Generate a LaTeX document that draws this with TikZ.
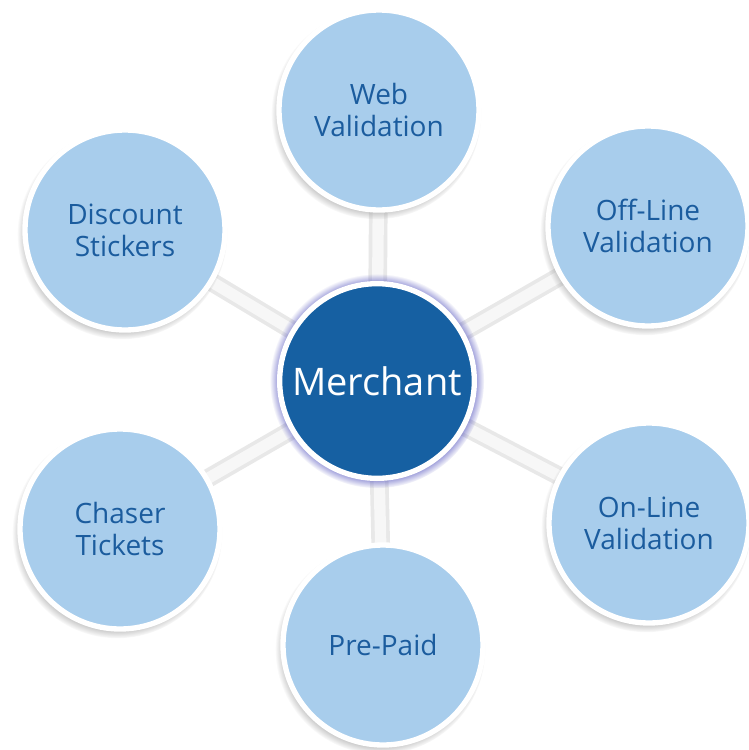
\documentclass[tikz,border=0pt]{standalone}
\usepackage{fontspec}
\setmainfont{Open Sans}
\usetikzlibrary{shadows,backgrounds}
\definecolor{hubblue}{HTML}{1660A2}
\definecolor{spokeblue}{HTML}{A8CDEC}
\definecolor{textblue}{HTML}{1B5C9E}
\tikzset{
  hubnode/.style={circle, minimum size=146pt, inner sep=0pt, fill=hubblue,
    draw=white, line width=4pt, text=white, font=\fontsize{28.5}{32}\selectfont,
    circular drop shadow={shadow scale=1.1, shadow xshift=0pt, shadow yshift=0pt, fill=blue!45!gray}},
  spokenode/.style={circle, minimum size=150pt, inner sep=0pt, fill=spokeblue,
    draw=white, line width=4pt, text=textblue, align=center,
    font=\fontsize{21}{24}\selectfont,
    circular drop shadow={shadow scale=1.05, shadow xshift=-2pt, shadow yshift=-3pt, fill=black!40}},
  spokeshade/.style={line width=14pt, draw=black!9},
  spokebar/.style={line width=8.5pt, draw=white!97!black}
}
\begin{document}
\begin{tikzpicture}[x=0.75pt, y=-0.75pt]
\useasboundingbox (0,0) rectangle (749,750);

\node[hubnode] (merchant) at (377,381) {Merchant};

\node[spokenode] (web) at (379,110) {Web\\Validation};
\node[spokenode] (offline) at (648,226) {Off-Line\\Validation};
\node[spokenode] (online) at (649,523) {On-Line\\Validation};
\node[spokenode] (prepaid) at (383,645) {Pre-Paid};
\node[spokenode] (chaser) at (120,529) {Chaser\\Tickets};
\node[spokenode] (discount) at (125,230) {Discount\\Stickers};

% bars between the hub and the outer circles
\begin{pgfonlayer}{background}
\fill[white] (0,0) rectangle (749,750);
\foreach \s in {web,offline,online,prepaid,chaser,discount}{
  \draw[spokeshade] (merchant.center) -- (\s.center);
  \draw[spokebar] (merchant.center) -- (\s.center);
}
\end{pgfonlayer}
\end{tikzpicture}
\end{document}
